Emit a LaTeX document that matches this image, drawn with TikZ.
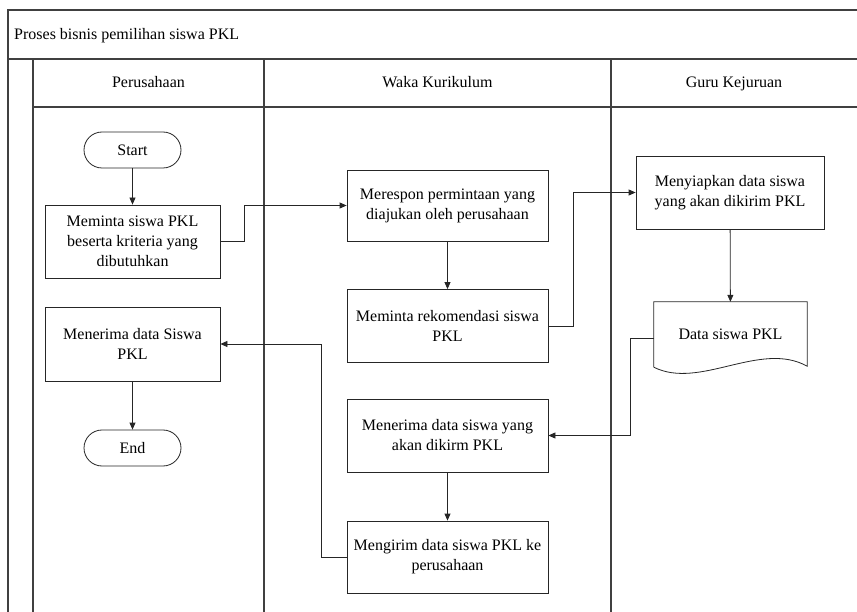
\documentclass[tikz,border=0pt]{standalone}
\usepackage{fontspec}
\setmainfont{Liberation Serif}
\usetikzlibrary{arrows.meta}
\tikzset{
  lane/.style = {draw=black!75, line width=1.1pt},
  proc/.style = {rectangle, draw=black!85, line width=0.8pt, align=center,
                 minimum width=#1, minimum height=72pt, inner sep=2pt},
  proc/.default = 201pt,
  term/.style = {rectangle, rounded corners=18pt, draw=black!85, line width=0.8pt,
                 minimum width=97pt, minimum height=36pt},
  flow/.style = {draw=black!85, line width=0.8pt, -{Triangle[length=7pt,width=6pt]}},
  head/.style = {anchor=base, inner sep=0pt},
  every node/.style = {font=\fontsize{16}{20}\selectfont}
}

\begin{document}
\begin{tikzpicture}[x=1pt,y=-1pt]
	\def \W{857}
	\def \H{612}
	\useasboundingbox (0,0) rectangle (\W,\H);

	% Frame
	\draw[lane] (8,\H) -- (8,10) -- (\W,10);
	\draw[lane] (8,59) -- (\W,59);
	\draw[lane] (33,107) -- (\W,107);
	\draw[lane] (33,59) -- (33,\H);
	\draw[lane] (264,59) -- (264,\H);
	\draw[lane] (611,59) -- (611,\H);

	% Titles
	\node[anchor=base west, inner sep=0pt] (title) at (14,40) {Proses bisnis pemilihan siswa PKL};
	\node[head] (perusahaan) at (148.5,88) {Perusahaan};
	\node[head] (waka) at (437.5,88) {Waka Kurikulum};
	\node[head] (guru) at (734,88) {Guru Kejuruan};

	% Perusahaan
	\node[term] (start) at (132.5,150) {Start};
	\node[proc=175pt, minimum height=73pt] (minta) at (132.5,241.5) {Meminta siswa PKL\\beserta kriteria yang\\dibutuhkan};
	\node[proc=175pt, minimum height=74pt] (terima) at (132.5,344) {Menerima data Siswa\\PKL};
	\node[term] (end) at (132.5,448) {End};

	% Waka Kurikulum
	\node[proc, minimum height=71pt] (respon) at (447.5,205.5) {Merespon permintaan yang\\diajukan oleh perusahaan};
	\node[proc, minimum height=73pt] (rekom) at (447.5,326) {Meminta rekomendasi siswa\\PKL};
	\node[proc, minimum height=73pt] (terimadata) at (447.5,435.5) {Menerima data siswa yang\\akan dikirm PKL};
	\node[proc] (kirim) at (447.5,557) {Mengirim data siswa PKL ke\\perusahaan};

	% Guru Kejuruan
	\node[proc=188pt, minimum height=73pt] (siapkan) at (730,192.5) {Menyiapkan data siswa\\yang akan dikirim PKL};
	\node[rectangle, minimum width=153pt, minimum height=65pt] (doc) at (730.5,334.5) {Data siswa PKL};
	\draw[draw=black!85, line width=0.8pt] (doc.south west) -- (doc.north west) -- (doc.north east)
		-- ([yshift=1pt]doc.south east) .. controls +(-47,-26) and +(46,23) .. (doc.south west);

	% Arrows
	\draw[flow] (start) -- (minta);
	\draw[flow] (minta.east) -- ++(24,0) |- (respon.west);
	\draw[flow] (respon) -- (rekom);
	\draw[flow] (rekom.east) -- ++(25,0) |- (siapkan.west);
	\draw[flow] (siapkan) -- (doc);
	\draw[flow] ([yshift=-4pt]doc.west) -- ++(-23,0) |- (terimadata.east);
	\draw[flow] (terimadata) -- (kirim);
	\draw[flow] (kirim.west) -- ++(-25,0) |- (terima.east);
	\draw[flow] (terima) -- (end);

\end{tikzpicture}
\end{document}
